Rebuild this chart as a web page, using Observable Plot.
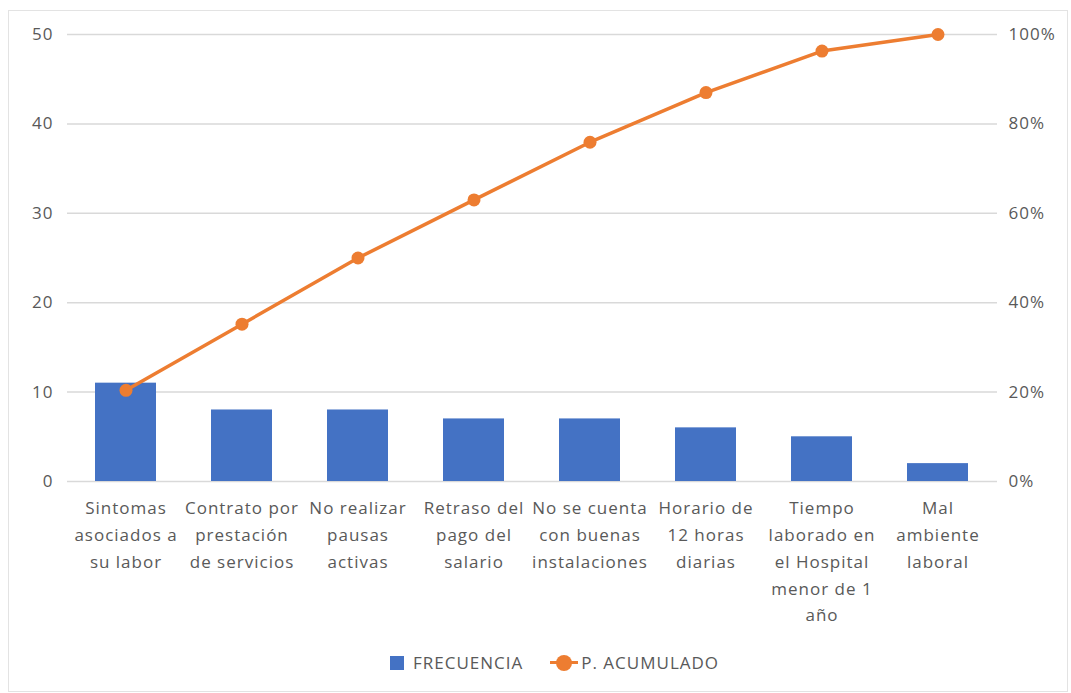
<!DOCTYPE html>
<html>
<head>
<meta charset="utf-8">
<script src="https://cdn.jsdelivr.net/npm/d3@7"></script>
<script src="https://cdn.jsdelivr.net/npm/@observablehq/plot@0.6"></script>
<style>
  body { margin: 0; background: #fff; font-family: "Open Sans", sans-serif; }
  #frame { position: absolute; left: 8px; top: 10px; width: 1060px; height: 682px; border: 1px solid #e3e3e3; box-sizing: border-box; }
  #chart { position: absolute; left: 0; top: 0; }
  #legend { position: absolute; left: 390px; top: 651px; display: flex; align-items: center; font-size: 17px; letter-spacing: 1px; color: #595959; }
  .item { display: flex; align-items: center; }
  .sq { width: 14px; height: 14px; background: #4472C4; margin-right: 9px; }
  .ln { position: relative; width: 28px; height: 16px; margin-left: 27px; margin-right: 3px; }
  .ln::before { content: ""; position: absolute; left: 0; right: 0; top: 6px; height: 3.5px; background: #ED7D31; }
  .ln::after { content: ""; position: absolute; left: 6px; top: 0; width: 16px; height: 16px; border-radius: 50%; background: #ED7D31; }
</style>
</head>
<body>
<div id="frame"></div>
<div id="chart"></div>
<div id="legend">
  <div class="item"><div class="sq"></div><span>FRECUENCIA</span></div>
  <div class="item"><div class="ln"></div><span>P. ACUMULADO</span></div>
</div>
<script>
const categories = [
  "Sintomas\nasociados a\nsu labor",
  "Contrato por\nprestación\nde servicios",
  "No realizar\npausas\nactivas",
  "Retraso del\npago del\nsalario",
  "No se cuenta\ncon buenas\ninstalaciones",
  "Horario de\n12 horas\ndiarias",
  "Tiempo\nlaborado en\nel Hospital\nmenor de 1\naño",
  "Mal\nambiente\nlaboral"
];
const frecuencia = [11, 8, 8, 7, 7, 6, 5, 2];
const acumulado = [20.4, 35.2, 50.0, 63.0, 75.9, 87.0, 96.3, 100];
const leftTicks = [0, 10, 20, 30, 40, 50];
const rightTickLabels = ["0%", "20%", "40%", "60%", "80%", "100%"];

const data = categories.map((c, i) => ({cat: c, freq: frecuencia[i], pct: acumulado[i]}));

const plot = Plot.plot({
  width: 1071,
  height: 640,
  marginLeft: 67,
  marginRight: 74,
  marginTop: 34,
  marginBottom: 159,
  style: { fontFamily: "Open Sans, sans-serif", fontSize: "17px", letterSpacing: "1px", color: "#595959", background: "transparent" },
  x: { domain: categories, paddingInner: 0.47, paddingOuter: 0.235, label: null },
  y: { domain: [0, 50], label: null },
  marks: [
    Plot.gridY(leftTicks, { stroke: "#d9d9d9", strokeOpacity: 1, strokeWidth: 1.5 }),
    Plot.axisY(leftTicks, { anchor: "left", tickSize: 0, tickPadding: 14, label: null, fontSize: 17 }),
    Plot.axisY(leftTicks, { anchor: "right", tickSize: 0, tickPadding: 11, label: null, fontSize: 17,
      tickFormat: (d, i) => rightTickLabels[i] }),
    Plot.barY(data, { x: "cat", y: "freq", fill: "#4472C4" }),
    Plot.axisX({ tickSize: 0, tickPadding: 14, label: null, lineHeight: 1.57, fontSize: 17, textAnchor: "middle" }),
    Plot.line(data, { x: "cat", y: d => d.pct / 2, stroke: "#ED7D31", strokeWidth: 3.5 }),
    Plot.dot(data, { x: "cat", y: d => d.pct / 2, r: 6.5, fill: "#ED7D31" })
  ]
});
document.getElementById("chart").appendChild(plot);
</script>
</body>
</html>
